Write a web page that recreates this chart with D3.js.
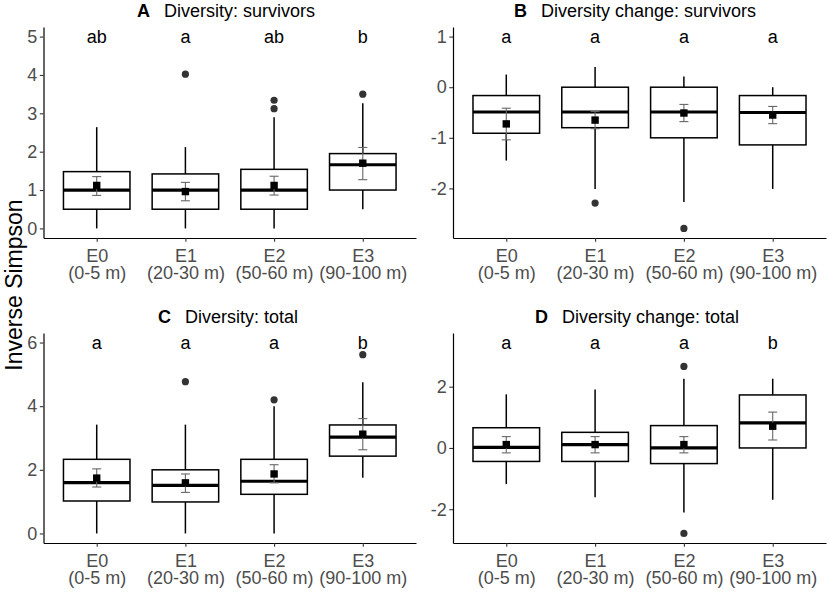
<!DOCTYPE html>
<html>
<head>
<meta charset="utf-8">
<script src="https://cdn.jsdelivr.net/npm/d3@7"></script>
<style>
  body { margin: 0; background: #fff; }
  svg { display: block; font-family: "Liberation Sans", Arial, sans-serif; }
</style>
</head>
<body>
<svg id="chart" width="829" height="594"></svg>
<script>

// categories (two-line tick labels)
var categories = ['E0', 'E1', 'E2', 'E3'];
var depths = ['(0-5 m)', '(20-30 m)', '(50-60 m)', '(90-100 m)'];

// box stats per category: [whisker low, q1, median, q3, whisker high]
var divSurvBox = [[0, 0.5, 1.0, 1.48, 2.64], [0, 0.5, 1.0, 1.42, 2.12], [0, 0.5, 1.0, 1.54, 2.9], [0.5, 1.0, 1.66, 1.95, 3.26]];
var chgSurvBox = [[-1.45, -0.91, -0.49, -0.165, 0.25], [-2.01, -0.8, -0.49, 0, 0.4], [-2.27, -1.0, -0.49, 0, 0.21], [-2.01, -1.14, -0.5, -0.165, 0]];
var divTotBox = [[0, 1.02, 1.6, 2.33, 3.42], [0, 0.99, 1.51, 2.0, 3.42], [0, 1.23, 1.64, 2.33, 4.0], [1.75, 2.43, 3.03, 3.41, 4.75]];
var chgTotBox = [[-1.18, -0.44, 0.02, 0.66, 1.75], [-1.61, -0.44, 0.11, 0.51, 1.91], [-2.11, -0.51, 0, 0.73, 2.26], [-1.69, 0, 0.82, 1.73, 2.26]];

// mean with error bar: [mean, low, high]
var divSurvMean = [[1.12, 0.86, 1.35], [0.96, 0.72, 1.2], [1.12, 0.87, 1.36], [1.7, 1.27, 2.11]];
var chgSurvMean = [[-0.725, -1.04, -0.415], [-0.65, -0.82, -0.48], [-0.51, -0.68, -0.34], [-0.55, -0.72, -0.38]];
var divTotMean = [[1.74, 1.46, 2.03], [1.59, 1.29, 1.87], [1.87, 1.59, 2.16], [3.12, 2.63, 3.61]];
var chgTotMean = [[0.11, -0.16, 0.37], [0.11, -0.16, 0.37], [0.11, -0.16, 0.37], [0.71, 0.26, 1.17]];

// outliers per category
var divSurvOut = [[], [4.02], [3.12, 3.34], [3.5]];
var chgSurvOut = [[], [-2.29], [-2.79], []];
var divTotOut = [[], [4.77], [4.2], [5.62]];
var chgTotOut = [[], [], [2.66, -2.79], []];

// significance letters and their height
var divSurvLetters = ['ab', 'a', 'ab', 'b'];
var chgSurvLetters = ['a', 'a', 'a', 'a'];
var divTotLetters = ['a', 'a', 'a', 'b'];
var chgTotLetters = ['a', 'a', 'a', 'b'];
var letterY = [5, 1, 6, 3.44];

// y tick values
var divSurvTicks = [0, 1, 2, 3, 4, 5];
var chgSurvTicks = [-2, -1, 0, 1];
var divTotTicks = [0, 2, 4, 6];
var chgTotTicks = [-2, 0, 2];

var FONT = '18px';

var svg = d3.select('#chart');

/**
 * Draws one boxplot panel into the svg.
 */
var drawPanel = function (p) {

  var g = svg.append('g');

  var x = d3.scalePoint()
    .domain(categories)
    .range([p.left, p.right])
    .padding(0.6);
  var bw = x.step() * 0.75;

  // y extent from the data and letters, expanded 5% like ggplot
  var vals = [p.letterY];
  p.box.forEach(function (b) { vals = vals.concat(b); });
  p.out.forEach(function (o) { vals = vals.concat(o); });
  var ext = d3.extent(vals);
  var pad = (ext[1] - ext[0]) * 0.05;
  var y = d3.scaleLinear()
    .domain([ext[0] - pad, ext[1] + pad])
    .range([p.bottom, p.top]);

  // title: bold tag then plain text
  var title = g.append('text')
    .attr('x', p.titleX)
    .attr('y', p.top - 10.5)
    .attr('text-anchor', 'middle')
    .style('font-size', FONT)
    .attr('fill', '#000');
  title.append('tspan')
    .style('font-weight', 'bold')
    .text(p.tag);
  title.append('tspan')
    .attr('dx', 14)
    .text(p.title);

  // boxes
  categories.forEach(function (c, i) {
    var b = p.box[i];
    var cx = x(c);

    g.append('line')
      .attr('x1', cx).attr('x2', cx)
      .attr('y1', y(b[4])).attr('y2', y(b[3]))
      .attr('stroke', '#000').attr('stroke-width', 1.5);
    g.append('line')
      .attr('x1', cx).attr('x2', cx)
      .attr('y1', y(b[1])).attr('y2', y(b[0]))
      .attr('stroke', '#000').attr('stroke-width', 1.5);

    g.append('rect')
      .attr('x', cx - bw / 2)
      .attr('y', y(b[3]))
      .attr('width', bw)
      .attr('height', y(b[1]) - y(b[3]))
      .attr('fill', '#fff')
      .attr('stroke', '#000')
      .attr('stroke-width', 1.5);

    g.append('line')
      .attr('x1', cx - bw / 2).attr('x2', cx + bw / 2)
      .attr('y1', y(b[2])).attr('y2', y(b[2]))
      .attr('stroke', '#000').attr('stroke-width', 3.2);

    g.selectAll(null)
      .data(p.out[i])
      .enter()
      .append('circle')
      .attr('cx', cx)
      .attr('cy', function (d) { return y(d); })
      .attr('r', 3.6)
      .attr('fill', '#333');

    // error bar and mean square
    var m = p.mean[i];
    g.append('line')
      .attr('x1', cx).attr('x2', cx)
      .attr('y1', y(m[1])).attr('y2', y(m[2]))
      .attr('stroke', '#666').attr('stroke-width', 1.1);
    [m[1], m[2]].forEach(function (v) {
      g.append('line')
        .attr('x1', cx - 4.5).attr('x2', cx + 4.5)
        .attr('y1', y(v)).attr('y2', y(v))
        .attr('stroke', '#666').attr('stroke-width', 1.1);
    });
    g.append('rect')
      .attr('x', cx - 3.7)
      .attr('y', y(m[0]) - 3.7)
      .attr('width', 7.4)
      .attr('height', 7.4)
      .attr('fill', '#000');

    // letters
    g.append('text')
      .attr('x', cx)
      .attr('y', y(p.letterY))
      .attr('dy', '0.35em')
      .attr('text-anchor', 'middle')
      .style('font-size', FONT)
      .attr('fill', '#000')
      .text(p.letters[i]);
  });

  // axes (plain hyphen for negatives, as in the original)
  var yAxis = g.append('g')
    .attr('transform', 'translate(' + p.left + ',0)')
    .call(d3.axisLeft(y)
      .tickValues(p.ticks)
      .tickFormat(function (d) { return String(d); })
      .tickSize(3.7).tickSizeOuter(0).tickPadding(2.5));
  var xAxis = g.append('g')
    .attr('transform', 'translate(0,' + p.bottom + ')')
    .call(d3.axisBottom(x).tickSize(3.7).tickSizeOuter(0).tickFormat(''));

  [yAxis, xAxis].forEach(function (a) {
    a.select('.domain').attr('stroke', '#000').attr('stroke-width', 1.2);
    a.selectAll('.tick line').attr('stroke', '#333').attr('stroke-width', 1.1);
  });
  yAxis.selectAll('.tick text')
    .style('font-size', FONT)
    .style('font-family', '"Liberation Sans", Arial, sans-serif')
    .attr('fill', '#4d4d4d');

  xAxis.selectAll('.tick')
    .each(function (d, i) {
      var t = d3.select(this).append('text')
        .attr('text-anchor', 'middle')
        .attr('fill', '#4d4d4d')
        .style('font-size', FONT);
      t.append('tspan').attr('x', 0).attr('y', 24).text(categories[i]);
      t.append('tspan').attr('x', 0).attr('y', 40.5).text(depths[i]);
    });
};

drawPanel({ left: 43.5, right: 416, top: 27, bottom: 238, titleX: 226,
  tag: 'A', title: 'Diversity: survivors',
  box: divSurvBox, mean: divSurvMean, out: divSurvOut,
  letters: divSurvLetters, letterY: letterY[0], ticks: divSurvTicks });

drawPanel({ left: 453, right: 826, top: 27, bottom: 238, titleX: 635,
  tag: 'B', title: 'Diversity change: survivors',
  box: chgSurvBox, mean: chgSurvMean, out: chgSurvOut,
  letters: chgSurvLetters, letterY: letterY[1], ticks: chgSurvTicks });

drawPanel({ left: 43.5, right: 416, top: 333, bottom: 543, titleX: 228,
  tag: 'C', title: 'Diversity: total',
  box: divTotBox, mean: divTotMean, out: divTotOut,
  letters: divTotLetters, letterY: letterY[2], ticks: divTotTicks });

drawPanel({ left: 453, right: 826, top: 333, bottom: 543, titleX: 637,
  tag: 'D', title: 'Diversity change: total',
  box: chgTotBox, mean: chgTotMean, out: chgTotOut,
  letters: chgTotLetters, letterY: letterY[3], ticks: chgTotTicks });

// shared y axis title
svg.append('text')
  .attr('transform', 'translate(22,285) rotate(-90)')
  .attr('text-anchor', 'middle')
  .style('font-size', '23px')
  .attr('fill', '#000')
  .text('Inverse Simpson');

</script>
</body>
</html>
